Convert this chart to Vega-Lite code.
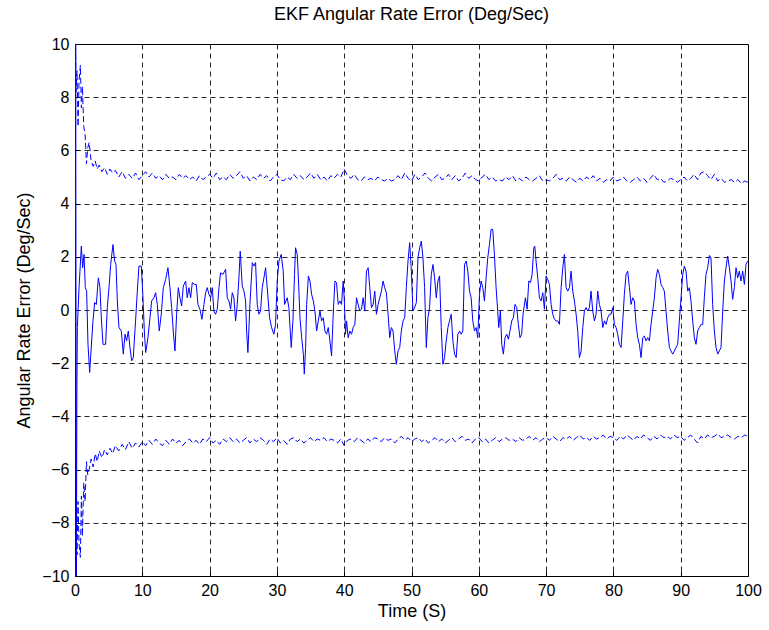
{
"$schema": "https://vega.github.io/schema/vega-lite/v6.json",
"width": 673, "height": 532,
"autosize": {"type": "none"},
"padding": {"left": 75, "top": 44, "right": 21, "bottom": 54},
"background": "white",
"title": {"text": "EKF Angular Rate Error (Deg/Sec)", "font": "Liberation Sans", "fontSize": 18, "fontWeight": "normal", "color": "#000", "offset": 12, "anchor": "middle"},
"config": {
  "view": {"stroke": "#000", "strokeWidth": 1},
  "axis": {"labelFont": "Liberation Sans", "labelFontSize": 16, "labelColor": "#000", "titleFont": "Liberation Sans", "titleFontSize": 18, "titleFontWeight": "normal", "titleColor": "#000", "domain": false, "tickColor": "#000", "grid": true, "gridColor": "#000", "gridDash": [5, 4], "gridOpacity": 0.85, "gridWidth": 1, "ticks": true, "tickSize": -5, "labelPadding": 11, "labelFlush": false}
},
"datasets": {
"err": [
{"t":0,"v":-10.8},{"t":0.1,"v":10.8},{"t":0.2,"v":-10.8},{"t":0.28,"v":-3},{"t":0.35,"v":-0.66},{"t":0.6,"v":0.84},{"t":0.94,"v":2.4},{"t":1.14,"v":1.59},{"t":1.34,"v":2.09},{"t":1.53,"v":0.84},{"t":1.73,"v":0.71},{"t":1.93,"v":-1.29},{"t":2.18,"v":-2.35},{"t":2.43,"v":-1.35},{"t":2.67,"v":-0.41},{"t":2.92,"v":0.28},{"t":3.17,"v":0.21},{"t":3.47,"v":1.21},{"t":3.71,"v":0.84},{"t":3.91,"v":-0.29},{"t":4.16,"v":-1.29},{"t":4.55,"v":-1.29},{"t":4.8,"v":0.09},{"t":5.05,"v":0.84},{"t":5.3,"v":1.71},{"t":5.64,"v":2.46},{"t":5.89,"v":1.84},{"t":6.09,"v":1.71},{"t":6.29,"v":0.34},{"t":6.53,"v":-0.66},{"t":6.88,"v":-0.79},{"t":7.18,"v":-1.66},{"t":7.43,"v":-0.91},{"t":7.67,"v":-1.16},{"t":7.92,"v":-0.79},{"t":8.17,"v":-1.41},{"t":8.42,"v":-1.91},{"t":8.66,"v":-1.79},{"t":9.0,"v":-0.41},{"t":9.26,"v":0.71},{"t":9.5,"v":1.65},{"t":9.85,"v":1.65},{"t":10.1,"v":0.46},{"t":10.3,"v":-0.79},{"t":10.5,"v":-1.6},{"t":10.84,"v":-1.04},{"t":11.14,"v":-0.29},{"t":11.39,"v":0.34},{"t":11.73,"v":0.46},{"t":11.98,"v":0.65},{"t":12.23,"v":0.21},{"t":12.52,"v":-0.79},{"t":12.82,"v":-0.16},{"t":13.12,"v":0.84},{"t":13.47,"v":1.15},{"t":13.81,"v":1.59},{"t":14.11,"v":0.84},{"t":14.36,"v":0.09},{"t":14.6,"v":-0.79},{"t":14.85,"v":-1.54},{"t":15.1,"v":-0.16},{"t":15.35,"v":0.84},{"t":15.59,"v":0.46},{"t":15.84,"v":0.15},{"t":16.09,"v":0.9},{"t":16.44,"v":1.09},{"t":16.68,"v":0.46},{"t":16.93,"v":0.84},{"t":17.18,"v":0.46},{"t":17.43,"v":1.03},{"t":17.77,"v":0.96},{"t":18.02,"v":0.96},{"t":18.27,"v":0.21},{"t":18.56,"v":0.03},{"t":18.86,"v":-0.35},{"t":19.16,"v":0.21},{"t":19.41,"v":0.65},{"t":19.65,"v":0.84},{"t":19.9,"v":0.59},{"t":20.15,"v":0.46},{"t":20.4,"v":0.84},{"t":20.64,"v":-0.04},{"t":20.89,"v":-0.16},{"t":21.14,"v":0.03},{"t":21.39,"v":0.84},{"t":21.63,"v":1.4},{"t":21.98,"v":1.34},{"t":22.38,"v":1.53},{"t":22.62,"v":0.46},{"t":22.87,"v":0.34},{"t":23.12,"v":0.03},{"t":23.37,"v":0.65},{"t":23.61,"v":0.46},{"t":23.86,"v":-0.41},{"t":24.11,"v":0.21},{"t":24.36,"v":1.21},{"t":24.55,"v":2.21},{"t":24.85,"v":0.9},{"t":25.1,"v":0.71},{"t":25.35,"v":0.34},{"t":25.5,"v":-0.79},{"t":25.69,"v":-1.6},{"t":25.99,"v":0.21},{"t":26.34,"v":1.78},{"t":26.58,"v":1.65},{"t":26.83,"v":1.78},{"t":27.08,"v":0.21},{"t":27.33,"v":-0.16},{"t":27.57,"v":-0.04},{"t":27.82,"v":0.84},{"t":28.07,"v":1.21},{"t":28.32,"v":1.59},{"t":28.56,"v":0.84},{"t":28.91,"v":-0.29},{"t":29.21,"v":-0.66},{"t":29.55,"v":-0.91},{"t":29.8,"v":-0.54},{"t":30.05,"v":1.09},{"t":30.3,"v":1.84},{"t":30.64,"v":2.09},{"t":30.94,"v":1.46},{"t":31.14,"v":0.21},{"t":31.53,"v":0.46},{"t":31.78,"v":0.09},{"t":32.13,"v":-1.41},{"t":32.38,"v":-0.41},{"t":32.62,"v":1.34},{"t":32.77,"v":2.34},{"t":33.02,"v":2.09},{"t":33.19,"v":1.21},{"t":33.43,"v":-0.29},{"t":33.68,"v":-1.04},{"t":33.93,"v":-1.66},{"t":34.07,"v":-2.41},{"t":34.27,"v":-1.41},{"t":34.42,"v":0.21},{"t":34.68,"v":1.28},{"t":34.91,"v":1.09},{"t":35.16,"v":0.59},{"t":35.41,"v":0.34},{"t":35.65,"v":-0.04},{"t":35.9,"v":-0.79},{"t":36.15,"v":-0.41},{"t":36.4,"v":-0.04},{"t":36.64,"v":-0.41},{"t":36.89,"v":-0.29},{"t":37.14,"v":-0.79},{"t":37.38,"v":-0.91},{"t":37.63,"v":-0.66},{"t":37.88,"v":-1.16},{"t":38.12,"v":-1.73},{"t":38.37,"v":-0.16},{"t":38.62,"v":1.09},{"t":38.86,"v":1.03},{"t":39.11,"v":0.21},{"t":39.36,"v":0.34},{"t":39.6,"v":0.21},{"t":39.85,"v":1.09},{"t":40.0,"v":0.46},{"t":40.2,"v":-0.91},{"t":40.35,"v":-0.41},{"t":40.59,"v":-1.04},{"t":40.84,"v":-0.79},{"t":41.09,"v":-0.91},{"t":41.33,"v":-0.66},{"t":41.58,"v":-0.54},{"t":41.83,"v":0.46},{"t":42.07,"v":0.21},{"t":42.32,"v":-0.04},{"t":42.57,"v":0.03},{"t":42.81,"v":0.46},{"t":43.06,"v":-0.04},{"t":43.31,"v":1.46},{"t":43.56,"v":1.59},{"t":43.8,"v":0.84},{"t":44.05,"v":0.09},{"t":44.3,"v":0.21},{"t":44.54,"v":0.71},{"t":44.79,"v":-0.16},{"t":45.04,"v":0.21},{"t":45.28,"v":0.46},{"t":45.53,"v":0.71},{"t":45.78,"v":1.09},{"t":46.02,"v":0.84},{"t":46.27,"v":0.65},{"t":46.52,"v":-0.16},{"t":46.77,"v":-1.04},{"t":47.01,"v":-0.66},{"t":47.26,"v":-0.79},{"t":47.51,"v":-1.54},{"t":47.75,"v":-2.04},{"t":48.0,"v":-1.54},{"t":48.25,"v":-1.41},{"t":48.49,"v":-0.79},{"t":48.74,"v":-0.41},{"t":48.99,"v":-0.29},{"t":49.23,"v":0.84},{"t":49.48,"v":1.84},{"t":49.73,"v":2.53},{"t":49.98,"v":1.46},{"t":50.22,"v":-0.04},{"t":50.47,"v":0.09},{"t":50.72,"v":0.28},{"t":50.96,"v":1.96},{"t":51.21,"v":2.34},{"t":51.46,"v":2.59},{"t":51.7,"v":1.96},{"t":51.95,"v":0.84},{"t":52.2,"v":-1.41},{"t":52.44,"v":-0.29},{"t":52.69,"v":0.09},{"t":52.94,"v":1.34},{"t":53.19,"v":1.71},{"t":53.43,"v":1.21},{"t":53.68,"v":0.46},{"t":53.93,"v":1.09},{"t":54.17,"v":1.28},{"t":54.42,"v":-0.66},{"t":54.67,"v":-2.04},{"t":54.91,"v":-1.79},{"t":55.16,"v":-1.16},{"t":55.41,"v":-0.66},{"t":55.65,"v":-0.41},{"t":55.9,"v":-0.16},{"t":56.15,"v":-1.16},{"t":56.4,"v":-1.66},{"t":56.64,"v":-1.79},{"t":56.89,"v":-0.91},{"t":57.14,"v":-0.79},{"t":57.38,"v":-0.91},{"t":57.63,"v":-0.79},{"t":57.88,"v":1.71},{"t":58.12,"v":1.84},{"t":58.37,"v":1.46},{"t":58.62,"v":0.71},{"t":58.86,"v":0.46},{"t":59.11,"v":-0.41},{"t":59.36,"v":-0.79},{"t":59.6,"v":-0.66},{"t":59.85,"v":-1.04},{"t":60.1,"v":0.59},{"t":60.35,"v":1.09},{"t":60.59,"v":0.84},{"t":60.84,"v":0.34},{"t":61.09,"v":1.21},{"t":61.33,"v":1.96},{"t":61.58,"v":2.46},{"t":61.83,"v":3.03},{"t":62.07,"v":3.03},{"t":62.32,"v":2.09},{"t":62.57,"v":0.84},{"t":62.81,"v":-0.04},{"t":62.96,"v":-0.66},{"t":63.21,"v":-0.04},{"t":63.41,"v":-1.29},{"t":63.65,"v":-1.66},{"t":63.9,"v":-1.04},{"t":64.15,"v":-0.91},{"t":64.4,"v":-1.1},{"t":64.64,"v":-0.79},{"t":64.89,"v":-0.41},{"t":65.14,"v":-0.29},{"t":65.38,"v":0.21},{"t":65.63,"v":0.09},{"t":65.88,"v":-0.54},{"t":66.12,"v":-1.04},{"t":66.37,"v":-0.91},{"t":66.57,"v":-0.16},{"t":66.93,"v":0.46},{"t":67.18,"v":0.03},{"t":67.43,"v":1.09},{"t":67.67,"v":1.03},{"t":67.92,"v":1.34},{"t":68.17,"v":2.34},{"t":68.32,"v":2.4},{"t":68.51,"v":1.84},{"t":68.76,"v":1.21},{"t":69.01,"v":0.46},{"t":69.26,"v":0.34},{"t":69.5,"v":0.65},{"t":69.75,"v":0.03},{"t":70.0,"v":1.28},{"t":70.25,"v":1.15},{"t":70.5,"v":0.96},{"t":70.74,"v":0.21},{"t":70.99,"v":-0.16},{"t":71.24,"v":-0.35},{"t":71.49,"v":-0.41},{"t":71.73,"v":-0.41},{"t":71.98,"v":-0.54},{"t":72.23,"v":0.84},{"t":72.48,"v":1.59},{"t":72.72,"v":2.09},{"t":72.97,"v":0.84},{"t":73.22,"v":0.71},{"t":73.47,"v":0.84},{"t":73.71,"v":1.46},{"t":73.96,"v":0.71},{"t":74.21,"v":0.34},{"t":74.46,"v":-0.16},{"t":74.7,"v":-0.79},{"t":74.95,"v":-1.79},{"t":75.2,"v":-1.54},{"t":75.45,"v":-0.66},{"t":75.69,"v":-0.04},{"t":75.94,"v":0.09},{"t":76.19,"v":-0.04},{"t":76.44,"v":0.09},{"t":76.68,"v":0.71},{"t":76.93,"v":-0.04},{"t":77.18,"v":-0.41},{"t":77.43,"v":-0.16},{"t":77.67,"v":0.71},{"t":77.92,"v":0.21},{"t":78.17,"v":-0.04},{"t":78.42,"v":-0.66},{"t":78.66,"v":-0.41},{"t":78.91,"v":-0.54},{"t":79.16,"v":-0.29},{"t":79.41,"v":-0.16},{"t":79.65,"v":-0.16},{"t":79.9,"v":0.09},{"t":80.15,"v":-0.54},{"t":80.4,"v":-0.66},{"t":80.64,"v":-0.91},{"t":80.89,"v":-1.29},{"t":81.14,"v":-1.41},{"t":81.39,"v":-0.41},{"t":81.63,"v":0.59},{"t":81.88,"v":1.34},{"t":82.13,"v":1.46},{"t":82.38,"v":0.84},{"t":82.62,"v":0.21},{"t":82.87,"v":0.46},{"t":83.12,"v":0.34},{"t":83.37,"v":-0.54},{"t":83.61,"v":-1.04},{"t":83.86,"v":-1.29},{"t":84.11,"v":-1.79},{"t":84.36,"v":-1.04},{"t":84.6,"v":-0.98},{"t":84.85,"v":-1.16},{"t":85.1,"v":-1.04},{"t":85.35,"v":-1.16},{"t":85.59,"v":-0.54},{"t":85.84,"v":-0.04},{"t":86.09,"v":0.46},{"t":86.34,"v":1.21},{"t":86.58,"v":1.53},{"t":86.83,"v":1.34},{"t":87.08,"v":0.96},{"t":87.33,"v":0.84},{"t":87.57,"v":0.71},{"t":87.82,"v":-0.04},{"t":88.07,"v":-0.79},{"t":88.32,"v":-1.41},{"t":88.56,"v":-1.54},{"t":88.81,"v":-1.66},{"t":89.06,"v":-1.54},{"t":89.31,"v":-1.41},{"t":89.55,"v":-1.29},{"t":89.8,"v":-0.41},{"t":90.05,"v":0.46},{"t":90.3,"v":1.34},{"t":90.54,"v":1.65},{"t":90.79,"v":1.46},{"t":91.04,"v":0.71},{"t":91.29,"v":0.84},{"t":91.53,"v":0.34},{"t":91.78,"v":-0.41},{"t":92.03,"v":-1.04},{"t":92.28,"v":-1.29},{"t":92.52,"v":-0.79},{"t":92.77,"v":-0.66},{"t":93.02,"v":-0.54},{"t":93.27,"v":-0.54},{"t":93.51,"v":0.46},{"t":93.76,"v":1.34},{"t":94.01,"v":1.59},{"t":94.26,"v":2.05},{"t":94.5,"v":1.96},{"t":94.75,"v":0.21},{"t":95.0,"v":-0.79},{"t":95.25,"v":-1.41},{"t":95.5,"v":-1.66},{"t":95.74,"v":-1.54},{"t":95.99,"v":-1.41},{"t":96.24,"v":-0.04},{"t":96.49,"v":1.09},{"t":96.73,"v":1.59},{"t":96.98,"v":2.03},{"t":97.23,"v":1.59},{"t":97.48,"v":1.09},{"t":97.72,"v":0.4},{"t":97.97,"v":0.84},{"t":98.22,"v":1.59},{"t":98.47,"v":1.21},{"t":98.71,"v":1.46},{"t":98.96,"v":1.09},{"t":99.21,"v":1.46},{"t":99.46,"v":0.96},{"t":99.7,"v":1.71},{"t":99.95,"v":1.84}
],
"bnd": [
{"t":0,"ub":12,"lb":-12},{"t":0.15,"ub":8.2,"lb":-8.0},{"t":0.3,"ub":9.0,"lb":-9.2},{"t":0.45,"ub":6.9,"lb":-7.2},{"t":0.6,"ub":8.6,"lb":-8.8},{"t":0.8,"ub":9.2,"lb":-9.3},{"t":0.95,"ub":7.6,"lb":-7.0},{"t":1.1,"ub":8.4,"lb":-8.5},{"t":1.3,"ub":6.9,"lb":-6.5},{"t":1.5,"ub":6.6,"lb":-7.2},{"t":1.7,"ub":5.5,"lb":-5.7},{"t":1.9,"ub":6.1,"lb":-6.2},{"t":2.1,"ub":6.3,"lb":-6.0},{"t":2.4,"ub":5.6,"lb":-5.6},{"t":2.7,"ub":5.4,"lb":-5.9},{"t":3.0,"ub":5.6,"lb":-5.4},{"t":3.3,"ub":5.3,"lb":-5.7},{"t":3.6,"ub":5.45,"lb":-5.3},{"t":4.0,"ub":5.2,"lb":-5.55},{"t":4.4,"ub":5.35,"lb":-5.25},{"t":4.8,"ub":5.1,"lb":-5.45},{"t":5.2,"ub":5.3,"lb":-5.2},{"t":5.6,"ub":5.15,"lb":-5.4},{"t":6.0,"ub":5.25,"lb":-5.1},{"t":6.5,"ub":5.0,"lb":-5.3},{"t":7.0,"ub":5.2,"lb":-5.05},{"t":7.5,"ub":4.95,"lb":-5.25},{"t":8.0,"ub":5.1,"lb":-4.95},{"t":8.5,"ub":4.95,"lb":-5.2},{"t":9.0,"ub":5.15,"lb":-5.0},{"t":9.5,"ub":4.9,"lb":-5.15},
{"t":10,"ub":5.05,"lb":-4.95},{"t":10.5,"ub":5.2,"lb":-5.1},{"t":11,"ub":5.0,"lb":-4.9},{"t":11.5,"ub":5.15,"lb":-5.05},{"t":12,"ub":4.95,"lb":-4.85},{"t":12.5,"ub":5.05,"lb":-5.0},{"t":13,"ub":4.9,"lb":-5.1},{"t":13.5,"ub":5.1,"lb":-4.9},{"t":14,"ub":4.95,"lb":-5.05},{"t":14.5,"ub":5.0,"lb":-4.85},{"t":15,"ub":4.9,"lb":-5.0},{"t":15.5,"ub":5.1,"lb":-4.9},{"t":16,"ub":4.95,"lb":-5.1},{"t":16.5,"ub":5.05,"lb":-4.95},{"t":17,"ub":4.9,"lb":-4.85},{"t":17.5,"ub":5.0,"lb":-5.0},{"t":18,"ub":4.85,"lb":-4.9},{"t":18.5,"ub":5.05,"lb":-5.05},{"t":19,"ub":4.9,"lb":-4.85},{"t":19.5,"ub":5.0,"lb":-4.95},{"t":20,"ub":5.1,"lb":-4.8},{"t":20.5,"ub":4.95,"lb":-5.0},{"t":21,"ub":5.15,"lb":-4.9},{"t":21.5,"ub":4.9,"lb":-5.05},{"t":22,"ub":5.0,"lb":-4.85},{"t":22.5,"ub":4.9,"lb":-4.95},{"t":23,"ub":5.1,"lb":-4.8},{"t":23.5,"ub":4.95,"lb":-4.95},{"t":24,"ub":5.05,"lb":-4.85},{"t":24.5,"ub":5.2,"lb":-5.0},{"t":25,"ub":4.95,"lb":-4.9},{"t":25.5,"ub":5.05,"lb":-4.8},{"t":26,"ub":4.85,"lb":-5.0},{"t":26.5,"ub":5.0,"lb":-4.85},{"t":27,"ub":4.9,"lb":-4.95},{"t":27.5,"ub":5.1,"lb":-4.8},{"t":28,"ub":4.95,"lb":-4.9},{"t":28.5,"ub":5.05,"lb":-5.05},{"t":29,"ub":4.85,"lb":-4.85},{"t":29.5,"ub":5.0,"lb":-4.95},{"t":30,"ub":5.1,"lb":-4.8},{"t":30.5,"ub":4.9,"lb":-5.0},{"t":31,"ub":4.85,"lb":-4.9},{"t":31.5,"ub":5.0,"lb":-5.05},{"t":32,"ub":4.9,"lb":-4.85},{"t":32.5,"ub":5.1,"lb":-4.8},{"t":33,"ub":4.95,"lb":-4.95},{"t":33.5,"ub":5.05,"lb":-4.85},{"t":34,"ub":4.9,"lb":-5.0},{"t":34.5,"ub":5.0,"lb":-4.9},{"t":35,"ub":5.15,"lb":-4.8},{"t":35.5,"ub":4.95,"lb":-4.95},{"t":36,"ub":5.1,"lb":-4.85},{"t":36.5,"ub":4.9,"lb":-4.9},{"t":37,"ub":5.0,"lb":-4.8},{"t":37.5,"ub":4.85,"lb":-4.95},{"t":38,"ub":5.05,"lb":-4.85},{"t":38.5,"ub":4.95,"lb":-4.9},{"t":39,"ub":5.1,"lb":-5.0},{"t":39.5,"ub":5.0,"lb":-4.85},{"t":40,"ub":5.3,"lb":-5.1},{"t":40.5,"ub":5.05,"lb":-4.9},{"t":41,"ub":4.95,"lb":-4.85},{"t":41.5,"ub":5.1,"lb":-4.95},{"t":42,"ub":4.9,"lb":-4.8},{"t":42.5,"ub":4.85,"lb":-4.9},{"t":43,"ub":5.0,"lb":-5.0},{"t":43.5,"ub":4.9,"lb":-4.85},{"t":44,"ub":4.95,"lb":-4.95},{"t":44.5,"ub":4.85,"lb":-4.8},{"t":45,"ub":5.0,"lb":-4.85},{"t":45.5,"ub":4.9,"lb":-4.95},{"t":46,"ub":4.85,"lb":-4.8},{"t":46.5,"ub":4.95,"lb":-4.9},{"t":47,"ub":4.85,"lb":-4.85},{"t":47.5,"ub":4.9,"lb":-5.0},{"t":48,"ub":5.05,"lb":-4.85},{"t":48.5,"ub":4.9,"lb":-4.75},{"t":49,"ub":5.15,"lb":-4.9},{"t":49.5,"ub":4.95,"lb":-4.8},{"t":50,"ub":4.85,"lb":-4.95},{"t":50.5,"ub":5.1,"lb":-4.85},{"t":51,"ub":4.9,"lb":-4.8},{"t":51.5,"ub":5.0,"lb":-4.95},{"t":52,"ub":5.15,"lb":-4.85},{"t":52.5,"ub":4.95,"lb":-5.0},{"t":53,"ub":4.85,"lb":-4.9},{"t":53.5,"ub":5.0,"lb":-4.8},{"t":54,"ub":5.1,"lb":-4.95},{"t":54.5,"ub":4.9,"lb":-4.85},{"t":55,"ub":4.95,"lb":-5.0},{"t":55.5,"ub":5.1,"lb":-4.9},{"t":56,"ub":4.9,"lb":-4.8},{"t":56.5,"ub":5.05,"lb":-4.95},{"t":57,"ub":4.85,"lb":-4.85},{"t":57.5,"ub":4.95,"lb":-4.75},{"t":58,"ub":5.15,"lb":-4.9},{"t":58.5,"ub":4.95,"lb":-4.85},{"t":59,"ub":5.05,"lb":-5.0},{"t":59.5,"ub":4.9,"lb":-4.85},{"t":60,"ub":4.85,"lb":-4.8},{"t":60.5,"ub":5.0,"lb":-4.95},{"t":61,"ub":5.1,"lb":-4.85},{"t":61.5,"ub":4.9,"lb":-5.0},{"t":62,"ub":5.0,"lb":-4.9},{"t":62.5,"ub":4.85,"lb":-4.8},{"t":63,"ub":4.9,"lb":-4.95},{"t":63.5,"ub":4.85,"lb":-4.85},{"t":64,"ub":5.0,"lb":-4.8},{"t":64.5,"ub":4.9,"lb":-4.9},{"t":65,"ub":5.05,"lb":-4.85},{"t":65.5,"ub":4.85,"lb":-4.95},{"t":66,"ub":4.95,"lb":-4.8},{"t":66.5,"ub":4.85,"lb":-4.9},{"t":67,"ub":5.0,"lb":-4.85},{"t":67.5,"ub":4.9,"lb":-4.75},{"t":68,"ub":4.85,"lb":-4.9},{"t":68.5,"ub":4.95,"lb":-4.8},{"t":69,"ub":5.05,"lb":-4.95},{"t":69.5,"ub":4.85,"lb":-4.85},{"t":70,"ub":4.9,"lb":-4.8},{"t":70.5,"ub":4.85,"lb":-4.9},{"t":71,"ub":4.95,"lb":-4.75},{"t":71.5,"ub":5.1,"lb":-4.85},{"t":72,"ub":4.9,"lb":-4.95},{"t":72.5,"ub":4.95,"lb":-4.8},{"t":73,"ub":4.85,"lb":-4.85},{"t":73.5,"ub":5.0,"lb":-4.75},{"t":74,"ub":4.9,"lb":-4.9},{"t":74.5,"ub":4.8,"lb":-4.8},{"t":75,"ub":4.95,"lb":-4.7},{"t":75.5,"ub":4.85,"lb":-4.85},{"t":76,"ub":5.0,"lb":-4.8},{"t":76.5,"ub":4.9,"lb":-4.9},{"t":77,"ub":5.05,"lb":-4.75},{"t":77.5,"ub":4.85,"lb":-4.85},{"t":78,"ub":4.95,"lb":-4.8},{"t":78.5,"ub":4.8,"lb":-4.7},{"t":79,"ub":4.9,"lb":-4.85},{"t":79.5,"ub":4.85,"lb":-4.75},{"t":80,"ub":5.0,"lb":-4.8},{"t":80.5,"ub":4.85,"lb":-4.9},{"t":81,"ub":4.9,"lb":-4.75},{"t":81.5,"ub":5.0,"lb":-4.85},{"t":82,"ub":4.85,"lb":-4.7},{"t":82.5,"ub":4.8,"lb":-4.8},{"t":83,"ub":4.9,"lb":-4.9},{"t":83.5,"ub":5.0,"lb":-4.75},{"t":84,"ub":4.85,"lb":-4.85},{"t":84.5,"ub":4.95,"lb":-4.7},{"t":85,"ub":4.8,"lb":-4.8},{"t":85.5,"ub":4.95,"lb":-4.9},{"t":86,"ub":5.1,"lb":-4.75},{"t":86.5,"ub":4.9,"lb":-4.85},{"t":87,"ub":4.95,"lb":-4.7},{"t":87.5,"ub":4.8,"lb":-4.8},{"t":88,"ub":4.85,"lb":-4.75},{"t":88.5,"ub":4.95,"lb":-4.85},{"t":89,"ub":4.9,"lb":-4.7},{"t":89.5,"ub":4.8,"lb":-4.8},{"t":90,"ub":4.9,"lb":-4.75},{"t":90.5,"ub":5.0,"lb":-4.9},{"t":91,"ub":4.85,"lb":-4.8},{"t":91.5,"ub":4.95,"lb":-4.7},{"t":92,"ub":5.1,"lb":-4.85},{"t":92.5,"ub":4.9,"lb":-5.0},{"t":93,"ub":5.15,"lb":-4.75},{"t":93.5,"ub":5.2,"lb":-4.85},{"t":94,"ub":5.05,"lb":-4.7},{"t":94.5,"ub":4.9,"lb":-4.8},{"t":95,"ub":5.1,"lb":-4.75},{"t":95.5,"ub":4.85,"lb":-4.65},{"t":96,"ub":4.95,"lb":-4.8},{"t":96.5,"ub":4.8,"lb":-4.75},{"t":97,"ub":4.85,"lb":-4.7},{"t":97.5,"ub":4.9,"lb":-4.8},{"t":98,"ub":4.8,"lb":-4.85},{"t":98.5,"ub":4.9,"lb":-4.75},{"t":99,"ub":4.75,"lb":-4.8},{"t":99.5,"ub":4.85,"lb":-4.7},{"t":100,"ub":4.8,"lb":-4.75}
]
},
"layer": [
  {
    "data": {"name": "bnd"},
    "mark": {"type": "line", "color": "#0000ff", "strokeWidth": 1, "strokeDash": [6, 3], "clip": true},
    "encoding": {
      "x": {"field": "t", "type": "quantitative", "scale": {"domain": [0, 100], "nice": false}, "axis": {"title": "Time (S)", "values": [0,10,20,30,40,50,60,70,80,90,100], "titlePadding": 4}},
      "y": {"field": "ub", "type": "quantitative", "scale": {"domain": [-10, 10], "nice": false}, "axis": {"title": "Angular Rate Error (Deg/Sec)", "values": [-10,-8,-6,-4,-2,0,2,4,6,8,10], "titlePadding": 8}}
    }
  },
  {
    "data": {"name": "bnd"},
    "mark": {"type": "line", "color": "#0000ff", "strokeWidth": 1, "strokeDash": [6, 3], "clip": true},
    "encoding": {
      "x": {"field": "t", "type": "quantitative"},
      "y": {"field": "lb", "type": "quantitative"}
    }
  },
  {
    "data": {"name": "err"},
    "mark": {"type": "line", "color": "#0000ff", "strokeWidth": 1, "clip": true},
    "encoding": {
      "x": {"field": "t", "type": "quantitative"},
      "y": {"field": "v", "type": "quantitative"}
    }
  }
]
}
